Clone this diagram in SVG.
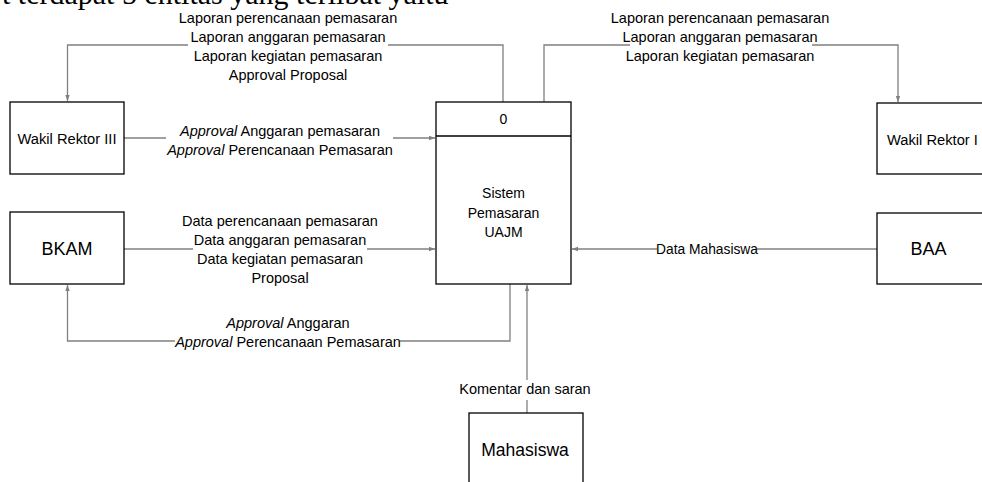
<svg xmlns="http://www.w3.org/2000/svg" width="982" height="482" viewBox="0 0 982 482">
<style>
.box{fill:#fff;stroke:#000;stroke-width:1.3}
.con{fill:none;stroke:#808080;stroke-width:1.3}
.lbl{font-family:"Liberation Sans",Arial,sans-serif;font-size:14.5px;fill:#000;text-anchor:middle}
.bg{fill:#fff}
.nt{font-family:"Liberation Sans",Arial,sans-serif;fill:#000;text-anchor:middle}
.it{font-style:italic}
.top{font-family:"Liberation Serif","Times New Roman",serif;font-size:30px;fill:#000}
</style>
<defs>
<marker id="ah" viewBox="0 0 6 6" refX="6" refY="3" markerWidth="6" markerHeight="6" markerUnits="userSpaceOnUse" orient="auto">
<path d="M0,0.8 L6,3 L0,5.2 z" fill="#808080"/>
</marker>
</defs>
<rect width="982" height="482" fill="#fff"/>
<text class="top" x="2" y="4">t terdapat 5 entitas yang terlibat yaitu</text>

<g id="connectors">
<path class="con" d="M503,102 V45 H67.5 V101" marker-end="url(#ah)"/>
<path class="con" d="M544,102 V45 H898 V102" marker-end="url(#ah)"/>
<path class="con" d="M124,138 H435" marker-end="url(#ah)"/>
<path class="con" d="M124,249 H435" marker-end="url(#ah)"/>
<path class="con" d="M510,284 V341 H67.5 V285" marker-end="url(#ah)"/>
<path class="con" d="M527,413 V285" marker-end="url(#ah)"/>
<path class="con" d="M877,249 H572" marker-end="url(#ah)"/>
</g>

<g id="labels">
<rect class="bg" x="188" y="30" width="200" height="17"/>
<text class="lbl" x="288" y="23">Laporan perencanaan pemasaran</text>
<text class="lbl" x="288" y="42">Laporan anggaran pemasaran</text>
<text class="lbl" x="288" y="61">Laporan kegiatan pemasaran</text>
<text class="lbl" x="288" y="80">Approval Proposal</text>

<rect class="bg" x="630" y="30" width="182" height="17"/>
<text class="lbl" x="720" y="23">Laporan perencanaan pemasaran</text>
<text class="lbl" x="720" y="42">Laporan anggaran pemasaran</text>
<text class="lbl" x="720" y="61">Laporan kegiatan pemasaran</text>

<rect class="bg" x="166" y="126" width="227" height="34"/>
<text class="lbl" x="280" y="136"><tspan class="it">Approval</tspan> Anggaran pemasaran</text>
<text class="lbl" x="280" y="155"><tspan class="it">Approval</tspan> Perencanaan Pemasaran</text>

<rect class="bg" x="193" y="234" width="174" height="17"/>
<text class="lbl" x="280" y="226">Data perencanaan pemasaran</text>
<text class="lbl" x="280" y="245">Data anggaran pemasaran</text>
<text class="lbl" x="280" y="264">Data kegiatan pemasaran</text>
<text class="lbl" x="280" y="283">Proposal</text>

<rect class="bg" x="175" y="334" width="225" height="17"/>
<text class="lbl" x="288" y="328"><tspan class="it">Approval</tspan> Anggaran</text>
<text class="lbl" x="288" y="347"><tspan class="it">Approval</tspan> Perencanaan Pemasaran</text>

<rect class="bg" x="657" y="240" width="100" height="17"/>
<text class="lbl" x="707" y="254" style="font-size:13.8px">Data Mahasiswa</text>

<rect class="bg" x="457" y="380" width="136" height="20"/>
<text class="lbl" x="525" y="394">Komentar dan saran</text>
</g>

<g id="wakil-rektor-iii">
<rect class="box" x="10" y="102" width="114" height="72"/>
<text class="nt" x="67" y="144" style="font-size:14.7px">Wakil Rektor III</text>
</g>

<g id="bkam">
<rect class="box" x="10" y="212" width="114" height="72"/>
<text class="nt" x="67" y="254.5" style="font-size:18px">BKAM</text>
</g>

<g id="sistem">
<rect class="box" x="436" y="102" width="135" height="182"/>
<line x1="436" y1="136" x2="571" y2="136" stroke="#000" stroke-width="1.3"/>
<text class="nt" x="503.5" y="124" style="font-size:14px">0</text>
<text class="nt" x="503.5" y="198" style="font-size:14px">Sistem</text>
<text class="nt" x="503.5" y="218" style="font-size:14px">Pemasaran</text>
<text class="nt" x="503.5" y="237" style="font-size:14px">UAJM</text>
</g>

<g id="wakil-rektor-ii">
<rect class="box" x="877" y="103" width="120" height="71"/>
<text class="nt" x="887" y="145" style="font-size:14.7px;text-anchor:start">Wakil Rektor I</text>
</g>

<g id="baa">
<rect class="box" x="877" y="213" width="120" height="71"/>
<text class="nt" x="928.5" y="254.5" style="font-size:18px">BAA</text>
</g>

<g id="mahasiswa">
<rect class="box" x="469" y="413" width="114" height="80"/>
<text class="nt" x="525" y="456" style="font-size:17.5px">Mahasiswa</text>
</g>
</svg>
